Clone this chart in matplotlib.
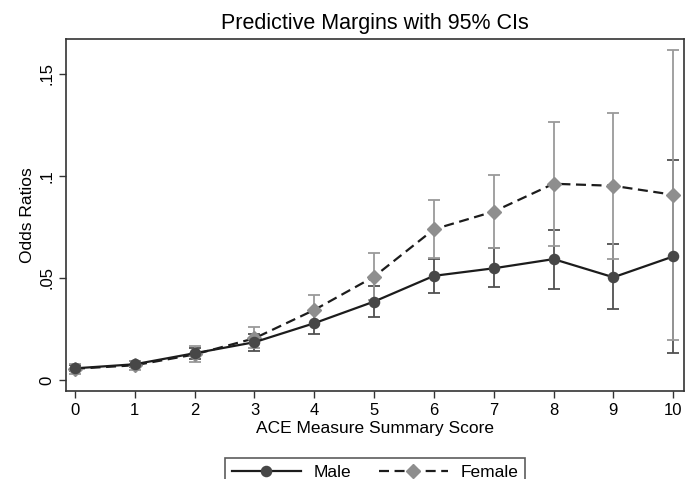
import numpy as np
import matplotlib
matplotlib.use("Agg")
import matplotlib.pyplot as plt

plt.rcParams['font.family'] = ['Liberation Sans', 'DejaVu Sans']

# ACE score categories
scores = np.arange(0, 11)

# predictive margins
male = [0.0057, 0.0077, 0.0131, 0.0185, 0.0278, 0.0384, 0.0510, 0.0547, 0.0592, 0.0503, 0.0605]
male_lo = [0.0042, 0.0062, 0.0105, 0.0144, 0.0225, 0.0310, 0.0428, 0.0454, 0.0448, 0.0350, 0.0134]
male_hi = [0.0072, 0.0092, 0.0157, 0.0225, 0.0331, 0.0461, 0.0594, 0.0645, 0.0735, 0.0665, 0.1078]

female = [0.0055, 0.0072, 0.0125, 0.0204, 0.0343, 0.0506, 0.0738, 0.0825, 0.0961, 0.0951, 0.0907]
female_lo = [0.0030, 0.0050, 0.0090, 0.0155, 0.0270, 0.0390, 0.0595, 0.0645, 0.0657, 0.0592, 0.0196]
female_hi = [0.0080, 0.0095, 0.0165, 0.0258, 0.0417, 0.0621, 0.0882, 0.1005, 0.1263, 0.1310, 0.1618]

yticks = [0, 0.05, 0.1, 0.15]
ytick_labels = ["0", ".05", ".1", ".15"]

fig = plt.figure(figsize=(6.93, 4.79), dpi=100)
ax = fig.add_axes([66/693, 1 - 391/479, (684 - 66)/693, (391 - 39)/479])

m = np.array(male)
f = np.array(female)
m_err = [m - np.array(male_lo), np.array(male_hi) - m]
f_err = [f - np.array(female_lo), np.array(female_hi) - f]

ax.errorbar(scores, m, yerr=m_err, fmt='none', ecolor='#505050',
            elinewidth=1.3, capsize=4.5, capthick=1.3, zorder=2)
ax.errorbar(scores, f, yerr=f_err, fmt='none', ecolor='#9a9a9a',
            elinewidth=1.3, capsize=4.5, capthick=1.3, zorder=2)

ax.plot(scores, m, '-', color='#1c1c1c', lw=1.6, marker='o', ms=7.3,
        mfc='#474747', mec='#474747', label='Male', zorder=4)
ax.plot(scores, f, '--', color='#1c1c1c', lw=1.6, marker='D', ms=7.3,
        mfc='#8e8e8e', mec='#8e8e8e', label='Female', zorder=3,
        dashes=(4.5, 2.5))

ax.set_xlim(-0.15, 10.18)
ax.set_ylim(-0.0054, 0.167)
ax.set_xticks(scores)
ax.set_yticks(yticks)
ax.set_yticklabels(ytick_labels, rotation=90, va='center')
ax.tick_params(axis='both', labelsize=12, length=5, width=1, color='#333333')
for s in ax.spines.values():
    s.set_color('#333333')
    s.set_linewidth(1.2)

ax.set_title("Predictive Margins with 95% CIs", fontsize=15.5, pad=7)
ax.set_xlabel("ACE Measure Summary Score", fontsize=12.5, labelpad=2)
ax.set_ylabel("Odds Ratios", fontsize=12.5, labelpad=3)

leg = fig.legend(loc='upper center', bbox_to_anchor=(375/693, 1 - 449/479),
                 ncol=2, fontsize=12.5, handlelength=4.0, frameon=True,
                 fancybox=False, edgecolor='#333333', borderpad=0.4,
                 columnspacing=1.6, handletextpad=0.7)
leg.get_frame().set_linewidth(1.2)

fig.savefig('out.png', dpi=100)
